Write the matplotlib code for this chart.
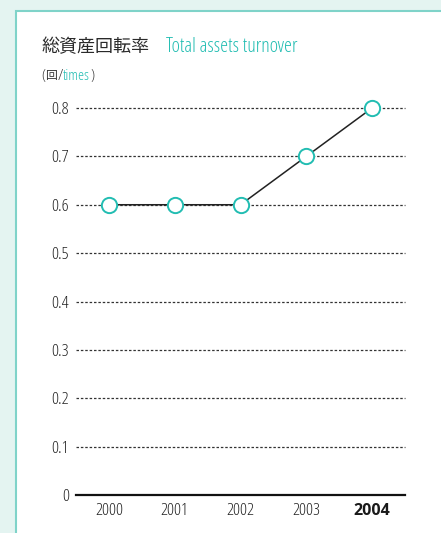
import matplotlib.pyplot as plt
from matplotlib.patches import Rectangle
from matplotlib.offsetbox import TextArea, HPacker, AnchoredOffsetbox

# data
years = ['2000', '2001', '2002', '2003', '2004']
turnover = [0.6, 0.6, 0.6, 0.7, 0.8]
yticks = [0, 0.1, 0.2, 0.3, 0.4, 0.5, 0.6, 0.7, 0.8]
ytick_labels = ['0', '0.1', '0.2', '0.3', '0.4', '0.5', '0.6', '0.7', '0.8']

teal = '#22bdb2'
plt.rcParams['font.family'] = ['Open Sans', 'DejaVu Sans']
plt.rcParams['font.stretch'] = 'condensed'

fig = plt.figure(figsize=(4.41, 5.33), dpi=100)
fig.patch.set_facecolor('#e4f4f1')
W, H = 441, 533

# white panel with teal border
panel = Rectangle((15.5 / W, -0.05), 1.0, 1 - 10.5 / H + 0.05, transform=fig.transFigure,
                  facecolor='white', edgecolor='#7fd3c9', linewidth=1.5, zorder=-5)
fig.patches.append(panel)

# titles
jp = ['Noto Sans CJK JP', 'DejaVu Sans']
fig.text(41 / W, 1 - 47 / H, '総資産回転率', fontsize=13, color='#2a2a2a',
         family=jp, va='center', ha='left')
fig.text(166 / W, 1 - 47 / H, 'Total assets turnover', fontsize=14.5, color=teal,
         va='center', ha='left')

unit_parts = [TextArea('(', textprops=dict(fontsize=11, color='#333333')),
              TextArea('回', textprops=dict(fontsize=8.5, color='#333333', family=jp)),
              TextArea('/', textprops=dict(fontsize=11, color='#333333')),
              TextArea('times', textprops=dict(fontsize=11, color=teal)),
              TextArea(')', textprops=dict(fontsize=11, color='#333333'))]
unit = HPacker(children=unit_parts, align='baseline', pad=0, sep=0.2)
ab = AnchoredOffsetbox(loc='center left', child=unit, pad=0, borderpad=0, frameon=False,
                       bbox_to_anchor=(41 / W, 1 - 76 / H), bbox_transform=fig.transFigure)
fig.add_artist(ab)

ax = fig.add_axes([76 / W, 1 - 495 / H, (405 - 76) / W, (495 - 108) / H])
ax.set_facecolor('none')
x = list(range(len(years)))
ax.plot(x, turnover, color='#222222', linewidth=1.1, zorder=3)
ax.plot(x, turnover, linestyle='none', marker='o', markersize=11,
        markerfacecolor='white', markeredgecolor=teal, markeredgewidth=1.4,
        zorder=4, clip_on=False)

ax.set_xlim(-0.5, 4.5)
ax.set_ylim(0, 0.8)
ax.set_yticks(yticks)
ax.set_yticklabels(ytick_labels)
for y in yticks[1:]:
    ax.axhline(y, color='#333333', linewidth=0.9, linestyle=(0, (2, 1.5)), zorder=1,
               clip_on=False)
ax.axhline(0, color='#111111', linewidth=1.6, zorder=2, clip_on=False)

ax.set_xticks(x)
ax.set_xticklabels(years)
ax.tick_params(axis='both', length=0, labelsize=12.5, labelcolor='#222222')
ax.tick_params(axis='y', pad=5)
ax.tick_params(axis='x', pad=6)
for lbl in ax.get_xticklabels():
    if lbl.get_text() == '2004':
        lbl.set_fontweight('bold')
        lbl.set_fontsize(11.5)
        lbl.set_color('#1a1a1a')
for s in ax.spines.values():
    s.set_visible(False)

fig.savefig('out.png', dpi=100, facecolor=fig.get_facecolor())
